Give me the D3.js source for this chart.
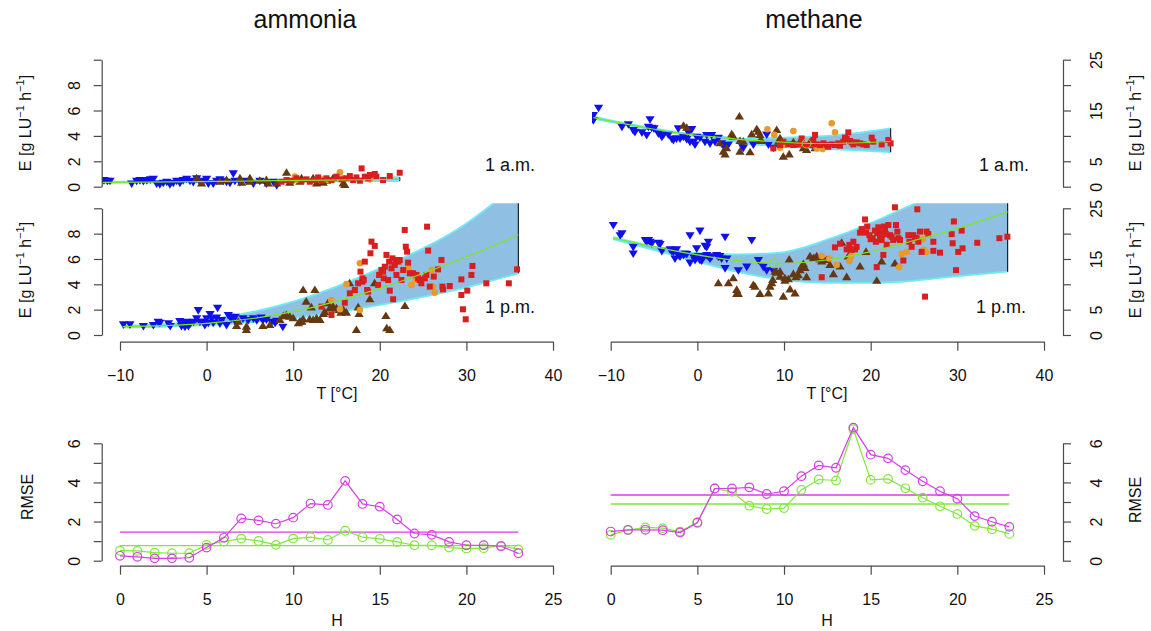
<!DOCTYPE html>
<html>
<head>
<meta charset="utf-8">
<script src="https://cdn.jsdelivr.net/npm/d3@7"></script>
<style>
  body { margin: 0; background: #fff; }
  svg { font-family: "Liberation Sans", Arial, sans-serif; }
</style>
</head>
<body>
<svg id="chart" width="1151" height="631"></svg>
<script>
// ---- scatter data, [T (°C), E (g LU-1 h-1)] ----
// ammonia, 1 a.m.
const nh3AmBlue = [[-11.85,0.52],[-11.46,0.47],[-11.15,0.47],[-8.65,0.26],[-8.08,0.47],[-7.7,0.52],[-7.3,0.45],[-6.9,0.52],[-6.5,0.58],[-6.15,0.63],[-5.77,0.26],[-5.4,0.21],[-5.0,0.31],[-4.6,0.39],[-4.23,0.21],[-3.85,0.31],[-3.46,0.47],[-3.08,0.31],[-2.7,0.52],[-2.3,0.63],[-1.92,0.47],[-1.54,0.37],[-1.15,0.66],[-0.77,0.39],[-0.38,0.47],[0.0,0.63],[0.2,0.26],[0.77,0.26],[1.15,0.47],[1.54,0.58],[1.92,0.47],[2.3,0.39],[2.7,0.31],[3.08,1.05],[3.27,0.47],[3.85,0.37],[4.6,0.47],[5.4,0.26],[6.15,0.47],[6.9,0.26],[7.7,0.39],[8.1,0.13]]
const nh3AmBrown = [[-1.15,0.66],[-0.58,0.26],[1.54,0.39],[2.3,0.52],[3.85,0.66],[4.04,0.31],[5.0,0.66],[5.0,0.39],[6.15,0.47],[6.9,0.52],[7.1,0.26],[8.1,0.26],[9.23,1.1],[9.6,0.31],[10.77,0.39],[10.96,0.66],[12.3,0.66],[12.7,0.26],[13.46,0.31],[13.85,0.47],[14.6,0.66],[15.77,0.26],[15.96,0.13]]
const nh3AmOrange = [[10.2,0.79],[10.38,0.52],[13.46,0.58],[14.04,0.52],[15.4,1.13],[15.77,0.66],[18.85,0.58]]
const nh3AmRed = [[8.65,0.39],[9.23,0.52],[9.8,0.47],[10.38,0.66],[10.96,0.47],[11.54,0.58],[11.92,0.39],[12.5,0.52],[12.88,0.73],[13.27,0.47],[13.85,0.66],[14.42,0.52],[15.0,0.79],[15.58,0.58],[16.15,0.66],[16.54,0.84],[16.92,0.52],[17.3,0.73],[17.7,0.47],[17.9,1.44],[18.27,0.79],[18.65,0.66],[18.85,0.92],[19.42,1.0],[19.6,0.79],[20.38,0.52],[21.15,0.84],[22.3,1.1]]
// ammonia, 1 p.m.
const nh3PmBlue = [[-9.6,0.84],[-8.85,0.84],[-7.3,0.71],[-6.15,0.79],[-5.6,1.05],[-5.4,0.97],[-4.4,0.92],[-4.2,0.71],[-3.1,1.1],[-2.9,0.71],[-2.7,0.97],[-2.5,0.66],[-2.3,1.05],[-2.1,0.71],[-1.9,0.92],[-1.5,1.05],[-1.15,1.32],[-0.96,1.97],[-0.77,1.05],[-0.38,1.05],[-0.2,0.79],[0.0,1.32],[0.2,0.97],[0.4,1.66],[0.6,1.32],[0.77,0.97],[1.15,1.39],[1.27,2.16],[1.54,0.92],[1.73,1.18],[2.3,0.79],[2.5,1.58],[2.7,1.45],[2.9,1.32],[3.3,1.45],[3.46,0.92],[4.2,1.32],[4.8,1.18],[5.4,1.32],[5.8,1.18],[6.3,1.39],[6.5,1.18],[6.9,1.24],[7.5,1.05],[7.9,0.97],[8.1,1.13],[8.8,0.66]]
const nh3PmBrown = [[3.46,0.71],[3.65,1.05],[4.6,0.66],[4.6,0.39],[6.5,0.71],[7.3,0.79],[8.46,1.18],[8.85,1.5],[9.2,1.58],[9.6,1.45],[10.0,1.32],[10.6,0.92],[10.8,1.05],[11.0,1.05],[11.15,1.24],[11.15,3.55],[11.5,2.63],[11.9,1.24],[12.1,2.18],[12.3,1.18],[12.5,3.55],[12.7,1.32],[13.1,1.18],[13.5,1.66],[13.65,1.79],[14.0,2.5],[14.2,2.1],[14.6,2.24],[15.0,2.1],[15.3,1.97],[15.5,1.76],[15.8,1.97],[16.15,1.76],[16.5,4.08],[17.3,0.39],[17.5,2.18],[17.6,1.66],[18.85,2.82],[19.4,4.08],[20.7,1.5],[20.8,0.53],[21.15,0.39],[22.9,2.29]]
const nh3PmOrange = [[14.4,2.76],[15.4,2.03],[16.15,4.03],[17.7,5.66],[17.7,1.97],[23.3,5.26],[23.65,3.95],[24.15,4.34],[26.0,5.13],[26.15,3.82],[26.35,3.34]]
const nh3PmRed = [[13.27,2.24],[14.42,1.58],[15.96,2.55],[16.54,3.29],[17.12,3.55],[17.5,4.08],[17.77,5.0],[18.0,4.47],[18.0,4.21],[18.15,4.34],[18.27,5.79],[18.54,3.55],[18.65,3.42],[18.92,6.45],[19.04,7.37],[19.42,7.03],[19.8,3.95],[19.92,4.74],[20.19,5.13],[20.38,5.0],[20.46,4.47],[20.58,5.39],[20.77,6.32],[20.96,4.34],[21.08,5.79],[21.15,3.5],[21.35,5.26],[21.46,6.05],[21.54,2.82],[21.73,5.53],[21.85,5.92],[21.92,4.74],[22.12,5.79],[22.3,5.92],[22.5,4.34],[22.7,5.13],[22.88,8.29],[23.0,6.97],[23.15,6.58],[23.27,5.71],[23.46,4.87],[23.85,4.87],[24.23,4.74],[24.42,4.47],[24.6,4.34],[24.8,4.08],[25.2,4.47],[25.38,4.74],[25.46,8.55],[25.58,6.66],[25.77,3.82],[26.23,4.61],[26.73,5.18],[27.12,5.92],[27.23,3.82],[27.3,3.6],[28.08,3.87],[29.42,4.39],[29.42,3.16],[29.6,2.03],[29.92,1.24],[30.1,3.5],[30.58,4.74],[30.7,5.45],[32.3,4.08],[34.9,4.08],[35.85,5.18]]
// methane, 1 a.m.
const ch4AmBlue = [[-12.0,14.1],[-12.0,13.1],[-11.4,15.55],[-8.7,11.8],[-7.96,12.3],[-7.4,11.15],[-7.2,10.8],[-6.4,10.7],[-5.85,10.2],[-5.65,11.8],[-5.46,13.3],[-5.27,11.6],[-5.0,11.5],[-4.5,10.5],[-4.1,9.84],[-3.9,10.3],[-3.35,10.3],[-2.96,9.5],[-2.77,9.2],[-2.4,9.5],[-2.2,11.5],[-2.0,9.5],[-1.6,9.84],[-1.23,9.4],[-1.04,10.7],[-0.85,8.86],[-0.65,11.35],[-0.46,8.86],[-0.27,8.33],[-0.08,9.84],[0.3,9.65],[0.88,8.86],[1.08,10.2],[1.46,8.53],[1.65,10.2],[2.04,8.86],[2.42,9.65],[2.8,8.53],[3.0,8.2],[3.38,8.07],[3.58,8.33],[5.1,8.2],[5.3,7.68],[6.46,8.33],[8.0,10.3],[8.2,8.33],[8.77,7.68]]
const ch4AmBrown = [[-1.6,12.0],[-1.23,11.6],[2.6,8.53],[3.0,6.9],[3.2,6.36],[3.38,7.55],[3.96,10.3],[4.15,9.84],[4.85,13.8],[4.92,9.0],[4.92,6.9],[5.3,8.86],[6.08,6.76],[6.27,10.3],[6.85,11.3],[7.04,10.8],[7.23,10.2],[7.23,9.0],[7.42,9.0],[9.15,11.15],[9.35,8.86],[9.54,9.5],[9.73,8.2],[9.92,5.9],[10.6,6.36],[11.08,8.73],[11.85,8.86],[12.23,7.55],[12.6,7.2],[13.0,8.73],[13.38,8.53],[13.58,7.55]]
const ch4AmOrange = [[8.08,11.3],[8.88,10.2],[9.54,7.68],[10.1,8.2],[11.08,10.96],[11.46,8.2],[13.77,7.55],[14.46,7.4],[15.5,12.5],[15.88,10.7]]
const ch4AmRed = [[8.77,7.55],[9.54,8.2],[9.92,8.86],[10.5,8.33],[11.08,8.2],[11.65,8.33],[12.04,9.5],[12.42,8.2],[13.0,8.2],[13.38,9.2],[13.58,10.2],[13.77,8.33],[14.15,8.2],[14.54,8.53],[14.92,8.2],[15.1,7.87],[15.5,8.33],[15.88,8.2],[16.27,8.53],[16.46,8.07],[16.85,8.86],[17.04,9.65],[17.23,9.4],[17.42,10.7],[17.62,9.0],[17.8,8.73],[18.0,8.33],[18.38,8.73],[18.77,8.53],[19.15,8.33],[19.54,8.2],[20.12,9.65],[20.3,8.86],[21.27,8.33],[22.04,9.2],[22.3,8.53]]
// methane, 1 p.m.
const ch4PmBlue = [[-9.7,21.7],[-8.9,19.7],[-8.7,20.1],[-7.4,17.4],[-7.4,16.1],[-6.0,18.75],[-5.85,18.4],[-5.65,18.75],[-5.46,18.4],[-5.27,18.1],[-4.5,18.2],[-4.3,17.96],[-4.1,16.6],[-3.15,16.9],[-2.96,16.6],[-2.77,16.45],[-2.58,16.8],[-2.4,16.9],[-2.58,15.1],[-2.2,15.8],[-2.0,15.5],[-1.6,15.8],[-1.42,16.1],[-1.23,16.0],[-0.85,19.7],[-0.85,14.3],[-0.46,15.5],[-0.27,14.8],[-0.08,17.1],[0.12,15.6],[0.3,20.6],[0.3,14.8],[0.5,14.7],[0.7,15.5],[0.9,17.6],[1.08,17.4],[1.08,15.8],[1.27,18.4],[1.27,15.5],[1.46,15.1],[1.65,15.5],[2.23,15.8],[2.42,15.5],[2.6,15.6],[2.8,15.1],[3.2,19.4],[3.2,13.2],[3.4,15.1],[4.73,12.8],[5.7,13.5],[6.27,18.75],[7.04,14.8],[7.6,13.5],[8.0,12.8],[8.77,12.7]]
const ch4PmBrown = [[2.42,10.2],[3.58,10.2],[4.15,11.2],[4.54,8.9],[4.54,8.1],[4.73,8.1],[6.46,9.87],[6.65,9.54],[7.23,8.1],[8.2,8.2],[8.38,9.54],[8.58,10.2],[8.7,10.86],[8.96,12.5],[9.15,12.3],[9.54,12.5],[9.54,11.5],[9.92,7.57],[10.1,11.2],[10.1,10.7],[10.5,11.0],[10.7,9.0],[10.6,14.9],[11.08,12.0],[11.27,8.2],[11.38,11.4],[11.65,11.8],[11.85,12.8],[12.04,13.5],[12.23,14.0],[12.42,13.2],[12.6,11.4],[13.0,15.5],[13.38,15.1],[13.58,15.1],[13.77,15.5],[14.15,14.9],[14.35,14.5],[14.54,15.1],[14.92,14.8],[15.3,13.8],[15.7,12.0],[16.46,13.5],[16.65,18.2],[17.23,11.4],[17.42,15.5],[18.77,13.5],[19.46,16.4],[20.7,10.7],[21.27,14.5],[22.8,14.1]]
const ch4PmOrange = [[14.35,15.6],[15.23,15.1],[16.08,13.8],[17.54,14.6],[17.7,15.5],[23.3,13.4],[23.58,16.0],[24.15,16.4],[26.0,18.9],[26.08,16.8],[26.38,16.4]]
const ch4PmRed = [[14.35,11.4],[15.88,17.3],[16.46,18.0],[17.23,16.9],[17.54,17.8],[17.8,16.8],[18.0,18.4],[18.2,16.9],[18.38,17.4],[18.77,20.2],[18.96,20.9],[19.35,22.8],[19.46,20.2],[19.6,21.4],[19.85,19.7],[20.0,18.9],[20.23,19.1],[20.5,20.6],[20.6,18.4],[20.7,13.4],[20.77,20.1],[20.88,21.25],[21.08,19.1],[21.15,20.2],[21.27,18.75],[21.46,15.8],[21.54,21.4],[21.65,20.6],[21.77,19.9],[21.85,17.8],[22.04,21.7],[22.23,19.7],[22.42,19.4],[22.6,18.75],[22.8,25.2],[22.92,21.7],[23.08,20.4],[23.2,19.1],[23.38,18.75],[23.77,14.7],[24.35,19.7],[24.46,18.4],[24.73,17.4],[24.92,19.7],[25.12,19.1],[25.3,19.1],[25.38,24.8],[25.5,18.4],[25.7,20.4],[25.88,16.4],[26.27,7.57],[26.46,20.4],[26.65,19.9],[27.23,18.4],[27.23,16.6],[28.0,16.25],[29.35,19.9],[29.46,18.1],[29.6,22.4],[29.85,12.8],[30.1,16.4],[30.5,20.6],[30.6,17.1],[32.3,18.2],[34.85,19.1],[35.77,19.4]]

// ---- fitted curves with their bands ----
const nh3AmFitT = [-12, -4, 5, 14, 22.3]
const nh3AmFit = [0.34, 0.38, 0.45, 0.52, 0.58]
const nh3AmLow = [0.3, 0.33, 0.39, 0.43, 0.45]
const nh3AmHigh = [0.38, 0.43, 0.52, 0.62, 0.75]
const nh3PmFitT = [-9.7, 0, 10, 20, 30, 36]
const nh3PmFit = [0.66, 0.92, 1.84, 3.68, 6.18, 7.89]
const nh3PmLow = [0.6, 0.79, 1.32, 2.37, 3.76, 4.87]
const nh3PmHigh = [0.72, 1.18, 2.63, 5.26, 8.8, 12.0]
const ch4AmFitT = [-12, -6, -2, 2, 5.7, 9.5, 13.4, 18, 22.3]
const ch4AmFit = [13.6, 11.6, 10.5, 9.8, 9.2, 8.8, 8.5, 8.6, 8.9]
const ch4AmLow = [13.4, 11.45, 10.35, 9.55, 8.5, 8.0, 7.55, 7.2, 6.8]
const ch4AmHigh = [13.8, 11.75, 10.65, 10.0, 9.4, 9.65, 9.84, 10.5, 11.5]
const ch4PmFitT = [-9.7, 0, 4.5, 9.5, 15.3, 19.9, 24.9, 28.8, 35.8]
const ch4PmFit = [19.1, 15.8, 14.7, 14.1, 14.9, 16.4, 18.6, 20.4, 24.3]
const ch4PmLow = [18.9, 14.5, 12.5, 11.0, 10.3, 10.3, 10.7, 11.4, 12.5]
const ch4PmHigh = [19.3, 16.2, 15.9, 16.25, 19.0, 22.0, 25.8, 28.5, 33.0]

// ---- hourly RMSE ----
const hours = [0,1,2,3,4,5,6,7,8,9,10,11,12,13,14,15,16,17,18,19,20,21,22,23]
const nh3RmseMagenta = [0.25,0.2,0.12,0.12,0.15,0.67,1.17,2.16,2.06,1.89,2.2,2.92,2.85,4.08,2.9,2.76,2.11,1.39,1.32,0.96,0.79,0.79,0.74,0.38]
const nh3RmseGreen = [0.51,0.5,0.41,0.38,0.38,0.81,0.98,1.13,1.01,0.81,1.13,1.2,1.06,1.53,1.2,1.12,0.96,0.79,0.79,0.67,0.62,0.64,0.77,0.58]
const nh3MeanMagenta = 1.46
const nh3MeanGreen = 0.77
const ch4RmseMagenta = [1.49,1.58,1.58,1.56,1.44,1.94,3.69,3.69,3.75,3.41,3.55,4.32,4.87,4.75,6.8,5.42,5.23,4.63,4.06,3.55,3.17,2.28,1.99,1.73]
const ch4RmseGreen = [1.32,1.56,1.7,1.66,1.49,1.97,3.69,3.52,2.81,2.64,2.69,3.62,4.15,4.1,6.72,4.13,4.18,3.7,3.22,2.78,2.39,1.78,1.61,1.37]
const ch4MeanMagenta = 3.36
const ch4MeanGreen = 2.9

const colors = { blue: "#1010ee", brown: "#663811", orange: "#e89a2a", red: "#d81e1e" }
const axisColor = "#4a4a4a"
const textColor = "#111"

const svg = d3.select("#chart")
const defs = svg.append("defs")

// scales (the three rows share the x pixel range of their column)
const xL = d3.scaleLinear().domain([-10, 40]).range([120, 553])
const xR = d3.scaleLinear().domain([-10, 40]).range([610.7, 1044])
const yTopL = d3.scaleLinear().domain([0, 10]).range([186.7, 59.7])
const yTopR = d3.scaleLinear().domain([0, 25]).range([186.7, 59.7])
const yMidL = d3.scaleLinear().domain([0, 10]).range([335, 208.3])
const yMidR = d3.scaleLinear().domain([0, 25]).range([335, 208.3])
const hL = d3.scaleLinear().domain([0, 25]).range([120, 553])
const hR = d3.scaleLinear().domain([0, 25]).range([610.7, 1044])
const yRmse = d3.scaleLinear().domain([0, 6]).range([560.7, 443.3])

const triUp = "M0,-4.6L4.6,3L-4.6,3Z"
const triDown = "M0,4.6L4.6,-3L-4.6,-3Z"

function drawPanel(p) {
  defs.append("clipPath").attr("id", p.id)
    .append("rect")
    .attr("x", p.clip[0]).attr("y", p.clip[1])
    .attr("width", p.clip[2] - p.clip[0])
    .attr("height", p.clip[3] - p.clip[1])
  const g = svg.append("g").attr("clip-path", `url(#${p.id})`)
  const idx = d3.range(p.fitT.length)
  const band = d3.area()
    .x(i => p.x(p.fitT[i]))
    .y0(i => p.y(p.lo[i]))
    .y1(i => p.y(p.hi[i]))
    .curve(d3.curveMonotoneX)
  const edge = vals => d3.line()
    .x(i => p.x(p.fitT[i]))
    .y(i => p.y(vals[i]))
    .curve(d3.curveMonotoneX)
  g.append("path").datum(idx).attr("d", band).attr("fill", "#8fbfe3")
  ;[p.lo, p.hi].forEach(v => {
    g.append("path").datum(idx).attr("d", edge(v))
      .attr("fill", "none").attr("stroke", "#6eeaf5").attr("stroke-width", 1.8)
  })
  const last = p.fitT.length - 1
  g.append("line")
    .attr("x1", p.x(p.fitT[last])).attr("x2", p.x(p.fitT[last]))
    .attr("y1", p.y(p.lo[last])).attr("y2", p.y(p.hi[last]))
    .attr("stroke", "#222").attr("stroke-width", 1.2)

  g.selectAll(".blue").data(p.blue).enter().append("path")
    .attr("d", triDown).attr("fill", colors.blue)
    .attr("transform", d => `translate(${p.x(d[0])},${p.y(d[1])})`)
  g.selectAll(".brown").data(p.brown).enter().append("path")
    .attr("d", triUp).attr("fill", colors.brown)
    .attr("transform", d => `translate(${p.x(d[0])},${p.y(d[1])})`)
  g.selectAll(".orange").data(p.orange).enter().append("circle")
    .attr("cx", d => p.x(d[0])).attr("cy", d => p.y(d[1])).attr("r", 3.3)
    .attr("fill", colors.orange)
  g.selectAll(".red").data(p.red).enter().append("rect")
    .attr("x", d => p.x(d[0]) - 3).attr("y", d => p.y(d[1]) - 3)
    .attr("width", 6).attr("height", 6).attr("fill", colors.red)

  g.append("path").datum(idx).attr("d", edge(p.fit))
    .attr("fill", "none").attr("stroke", "#7ee81a").attr("stroke-width", 1.2)
  if (p.mark) {
    g.append("circle").attr("cx", p.x(p.mark[0])).attr("cy", p.y(p.mark[1]))
      .attr("r", 4.5).attr("fill", "none").attr("stroke", "#7ee81a").attr("stroke-width", 1)
  }
}

drawPanel({ id: "c1", x: xL, y: yTopL, clip: [102, 54.6, 572, 191.8],
  blue: nh3AmBlue, brown: nh3AmBrown, orange: nh3AmOrange, red: nh3AmRed,
  fitT: nh3AmFitT, fit: nh3AmFit, lo: nh3AmLow, hi: nh3AmHigh })
drawPanel({ id: "c2", x: xL, y: yMidL, clip: [102, 203.2, 572, 340],
  blue: nh3PmBlue, brown: nh3PmBrown, orange: nh3PmOrange, red: nh3PmRed,
  fitT: nh3PmFitT, fit: nh3PmFit, lo: nh3PmLow, hi: nh3PmHigh })
drawPanel({ id: "c3", x: xR, y: yTopR, clip: [592, 54.6, 1063, 191.8],
  blue: ch4AmBlue, brown: ch4AmBrown, orange: ch4AmOrange, red: ch4AmRed,
  fitT: ch4AmFitT, fit: ch4AmFit, lo: ch4AmLow, hi: ch4AmHigh, mark: [12.6, 8.5] })
drawPanel({ id: "c4", x: xR, y: yMidR, clip: [592, 203.2, 1063, 340],
  blue: ch4PmBlue, brown: ch4PmBrown, orange: ch4PmOrange, red: ch4PmRed,
  fitT: ch4PmFitT, fit: ch4PmFit, lo: ch4PmLow, hi: ch4PmHigh, mark: [8.8, 14.1] })

// ---- axes ----
function styleAxis(g) {
  g.select(".domain").attr("stroke", axisColor).attr("stroke-width", 1.2)
  g.selectAll(".tick line").attr("stroke", axisColor).attr("stroke-width", 1.2)
  g.selectAll(".tick text").attr("fill", textColor)
  g.attr("font-family", null).attr("font-size", 16)
}
// R draws y tick labels parallel to the axis
function rotateLabels(g, dx) {
  g.selectAll(".tick text")
    .attr("x", null).attr("dy", null)
    .attr("text-anchor", "middle")
    .attr("transform", `translate(${dx},0) rotate(-90)`)
}
const pick = list => d => list.includes(d) ? d : ""

function yAxis(scale, x, side, ticks, labels) {
  const ax = (side === "left" ? d3.axisLeft(scale) : d3.axisRight(scale))
    .tickValues(ticks).tickFormat(pick(labels)).tickSize(8).tickSizeOuter(0)
  const g = svg.append("g").attr("transform", `translate(${x},0)`).call(ax)
  styleAxis(g)
  rotateLabels(g, side === "left" ? -22 : 39)
}
function xAxis(scale, y, ticks) {
  const g = svg.append("g").attr("transform", `translate(0,${y})`)
    .call(d3.axisBottom(scale).tickValues(ticks).tickSize(9).tickSizeOuter(0).tickPadding(19))
  styleAxis(g)
}

yAxis(yTopL, 101.7, "left", [0, 2, 4, 6, 8, 10], [0, 2, 4, 6, 8])
yAxis(yMidL, 102, "left", [0, 2, 4, 6, 8, 10], [0, 2, 4, 6, 8])
yAxis(yTopR, 1063, "right", [0, 5, 10, 15, 20, 25], [0, 5, 15, 25])
yAxis(yMidR, 1063, "right", [0, 5, 10, 15, 20, 25], [0, 5, 15, 25])
xAxis(xL, 341.7, [-10, 0, 10, 20, 30, 40])
xAxis(xR, 341.7, [-10, 0, 10, 20, 30, 40])

// ---- text ----
function label(x, y, txt, size, rot) {
  return svg.append("text")
    .attr("transform", `translate(${x},${y})` + (rot ? " rotate(-90)" : ""))
    .attr("text-anchor", "middle").attr("font-size", size).attr("fill", textColor)
    .text(txt)
}
function eLabel(x, y) {
  const t = svg.append("text")
    .attr("transform", `translate(${x},${y}) rotate(-90)`)
    .attr("text-anchor", "middle").attr("font-size", 16).attr("fill", textColor)
  t.append("tspan").text("E [g LU")
  t.append("tspan").attr("font-size", 11).attr("dy", -7).text("\u22121")
  t.append("tspan").attr("dy", 7).text(" h")
  t.append("tspan").attr("font-size", 11).attr("dy", -7).text("\u22121")
  t.append("tspan").attr("dy", 7).text("]")
}

label(305, 28, "ammonia", 25)
label(814, 28, "methane", 25)
eLabel(31, 123)
eLabel(31, 270)
eLabel(1141, 123)
eLabel(1141, 270)
label(510, 171, "1 a.m.", 18)
label(510, 313, "1 p.m.", 18)
label(1004, 171, "1 a.m.", 18)
label(1001, 313, "1 p.m.", 18)
label(337, 399, "T [\u00B0C]", 16)
label(827, 399, "T [\u00B0C]", 16)

// ---- RMSE panels ----
function drawRmse(x, magenta, green, meanM, meanG, axisX, side) {
  const g = svg.append("g")
  const line = d3.line().x((d, i) => x(hours[i])).y(d => yRmse(d))
  ;[[meanG, "#80e83a"], [meanM, "#d63ee6"]].forEach(([m, c]) => {
    g.append("line").attr("x1", x(hours[0])).attr("x2", x(hours[hours.length - 1]))
      .attr("y1", yRmse(m)).attr("y2", yRmse(m))
      .attr("stroke", c).attr("stroke-width", 1.4)
  })
  ;[[green, "#80e83a"], [magenta, "#d63ee6"]].forEach(([vals, c]) => {
    g.append("path").datum(vals).attr("d", line)
      .attr("fill", "none").attr("stroke", c).attr("stroke-width", 1.2)
    g.selectAll(null).data(vals).enter().append("circle")
      .attr("cx", (d, i) => x(hours[i])).attr("cy", d => yRmse(d)).attr("r", 4.3)
      .attr("fill", "none").attr("stroke", c).attr("stroke-width", 1.2)
  })
  xAxis(x, 565.7, [0, 5, 10, 15, 20, 25])
  yAxis(yRmse, axisX, side, [0, 1, 2, 3, 4, 5, 6], [0, 2, 4, 6])
}
drawRmse(hL, nh3RmseMagenta, nh3RmseGreen, nh3MeanMagenta, nh3MeanGreen, 101.7, "left")
drawRmse(hR, ch4RmseMagenta, ch4RmseGreen, ch4MeanMagenta, ch4MeanGreen, 1063, "right")
label(33, 497, "RMSE", 16, true)
label(1141, 500, "RMSE", 16, true)
label(337, 626, "H", 16)
label(827, 626, "H", 16)
</script>
</body>
</html>
